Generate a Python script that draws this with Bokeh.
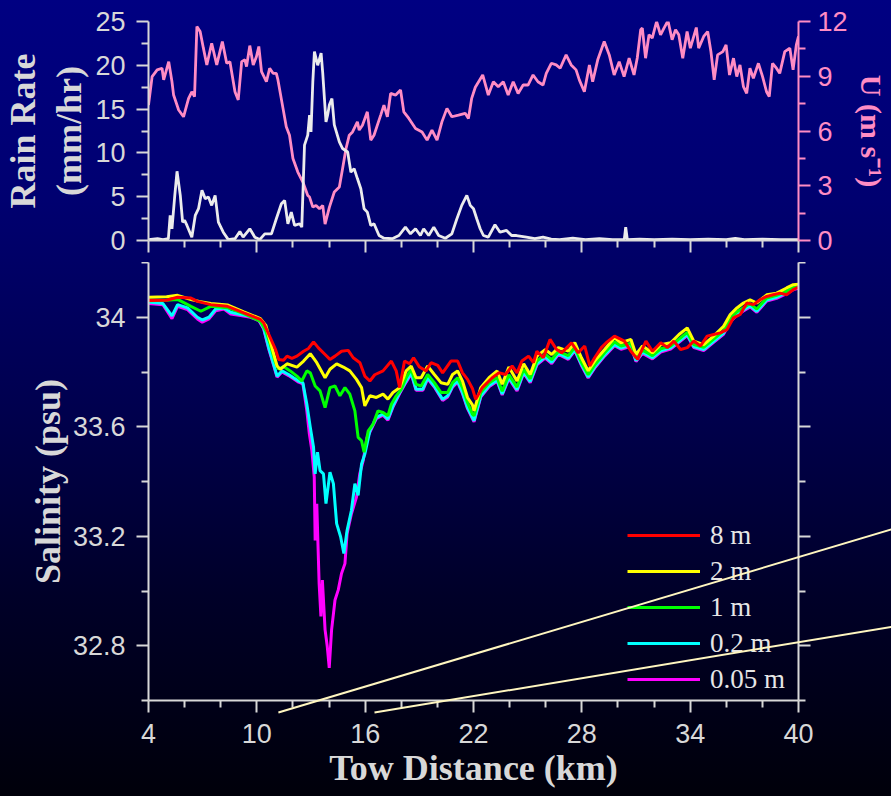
from bokeh.plotting import figure
from bokeh.models import (Range1d, LinearAxis, FixedTicker, Legend, LegendItem, GridBox)
from bokeh.layouts import column
from bokeh.embed import file_html
from bokeh.resources import INLINE

# ---------------- data ----------------
wind_km = [4.0, 4.2, 4.48, 4.75, 4.84, 5.12, 5.3, 5.39, 5.67, 5.94, 6.22, 6.4, 6.55, 6.68, 6.86, 7.04,
           7.23, 7.5, 7.78, 8.09, 8.33, 8.51, 8.79, 8.97, 9.16, 9.34, 9.43, 9.61, 9.8, 9.98, 10.11, 10.26,
           10.53, 10.71, 10.9, 11.08, 11.17, 11.45, 11.63, 11.81, 12.0, 12.27, 12.55, 12.82, 12.92, 13.1,
           13.28, 13.47, 13.65, 13.78, 14.02, 14.29, 14.57, 14.75, 14.94, 15.12, 15.3, 15.57, 15.67, 15.85,
           16.12, 16.31, 16.49, 16.86, 17.04, 17.23, 17.41, 17.69, 17.96, 18.14, 18.42, 18.79, 19.15, 19.43,
           19.7, 19.98, 20.25, 20.53, 20.8, 21.17, 21.54, 21.72, 21.9, 22.1, 22.51, 22.82, 23.1, 23.37,
           23.65, 23.92, 24.2, 24.47, 24.75, 25.02, 25.3, 25.57, 25.85, 26.03, 26.31, 26.58, 26.8, 27.13,
           27.41, 27.68, 27.86, 28.14, 28.42, 28.6, 28.88, 29.24, 29.52, 29.79, 30.07, 30.34, 30.62, 30.89,
           31.07, 31.26, 31.35, 31.53, 31.72, 31.9, 32.14, 32.36, 32.55, 32.77, 33.0, 33.19, 33.37, 33.59,
           33.83, 34.01, 34.34, 34.47, 34.75, 34.97, 35.15, 35.33, 35.52, 35.81, 35.99, 36.18, 36.4, 36.58,
           36.76, 36.95, 37.13, 37.31, 37.5, 37.78, 38.01, 38.23, 38.38, 38.56, 38.78, 38.96, 39.24, 39.52,
           39.7, 39.88, 40.0]
wind_u = [7.42, 8.98, 9.35, 9.44, 8.8, 9.8, 8.7, 7.97, 7.15, 6.78, 7.79, 8.15, 7.88, 11.73, 11.45, 10.54,
          9.62, 10.81, 9.62, 10.9, 9.71, 9.8, 8.15, 7.7, 9.8, 9.9, 9.53, 10.68, 9.62, 10.08, 10.63, 9.25,
          8.7, 9.44, 9.16, 9.16, 8.8, 7.24, 6.23, 5.77, 4.49, 3.75, 3.2, 2.47, 2.38, 1.83,
          1.92, 1.74, 1.92, 0.9, 1.83, 2.66, 2.93, 3.94, 5.04, 5.77, 5.95, 6.5, 6.05, 6.32,
          7.05, 5.5, 5.77, 6.87, 7.42, 6.78, 8.06, 7.97, 8.25, 7.05, 6.69, 6.14, 5.95, 5.5,
          6.05, 5.5, 6.5, 7.24, 6.78, 6.87, 6.97, 6.69, 7.79, 8.4, 9.07, 7.97, 8.7, 8.43,
          8.7, 7.97, 8.7, 8.06, 8.52, 8.52, 9.07, 8.7, 8.52, 9.16, 9.71, 9.62, 9.44, 10.17,
          9.62, 9.35, 8.8, 8.15, 9.62, 8.7, 9.9, 10.9, 10.17, 9.07, 9.8, 8.98, 9.99, 9.07,
          10.0, 11.55, 11.64, 9.99, 11.27, 11.09, 12.0, 11.27, 11.64, 12.04, 11.0, 11.55, 11.27, 9.99,
          11.45, 10.54, 11.67, 10.54, 11.18, 11.45, 10.35, 8.8, 10.17, 10.35, 10.72, 9.07, 9.99, 8.98,
          9.62, 8.43, 8.06, 9.44, 8.89, 9.71, 8.98, 8.15, 7.88, 9.71, 9.44, 9.16, 10.35, 10.54,
          9.35, 10.72, 11.18]

rain_km = [4.0, 4.5, 4.8, 5.1, 5.2, 5.3, 5.45, 5.58, 5.76, 5.89, 6.0, 6.13, 6.4, 6.59, 6.77, 6.96, 7.14,
           7.32, 7.5, 7.69, 7.87, 8.14, 8.42, 8.79, 9.06, 9.24, 9.61, 9.89, 10.16, 10.44, 10.81, 11.08,
           11.36, 11.54, 11.72, 11.91, 12.09, 12.37, 12.49, 12.64, 12.82, 12.92, 13.0, 13.1, 13.19, 13.37,
           13.56, 13.65, 13.83, 13.92, 14.02, 14.16, 14.29, 14.57, 14.75, 15.03, 15.21, 15.39, 15.57, 15.76,
           15.94, 16.12, 16.31, 16.49, 16.77, 17.04, 17.5, 17.87, 18.23, 18.51, 18.79, 19.06, 19.24, 19.52,
           19.8, 20.07, 20.44, 20.8, 21.08, 21.35, 21.63, 21.82, 22.0, 22.18, 22.37, 22.55, 22.82, 23.19,
           23.47, 23.83, 24.11, 24.38, 24.93, 25.4, 25.85, 26.3, 26.77, 27.5, 28.2, 28.97, 29.7, 30.35,
           30.43, 30.52, 31.2, 32.0, 33.0, 34.0, 35.0, 36.0, 36.5, 37.0, 38.0, 39.0, 40.0]
rain_rate = [0.1, 0.2, 0.1, 0.2, 2.86, 1.34, 5.0, 7.9, 5.15, 2.1, 2.3, 1.72, 0.38, 2.86, 3.63, 5.73, 4.78,
             4.96, 4.01, 5.15, 2.1, 0.95, 0.1, 0.2, 1.03, 0.38, 1.34, 0.38, 0.1, 0.76, 0.76, 2.48,
             4.2, 4.58, 1.91, 3.24, 1.72, 1.91, 1.53, 10.88, 12.03, 14.3, 12.4, 18.1, 21.57, 20.0,
             21.4, 19.1, 13.55, 14.3, 15.5, 16.2, 13.2, 11.26, 10.5, 10.1, 7.8, 8.2, 7.07, 5.9,
             3.63, 3.24, 1.72, 1.91, 0.57, 0.26, 0.2, 0.57, 1.53, 0.76, 1.34, 0.57, 1.34, 0.57,
             1.53, 0.57, 0.26, 0.76, 2.48, 4.01, 5.15, 4.01, 3.63, 2.48, 1.34, 0.57, 0.38, 1.8,
             0.95, 1.15, 0.57, 0.57, 0.38, 0.2, 0.38, 0.15, 0.1, 0.26, 0.1, 0.2, 0.1, 0.1,
             1.53, 0.1, 0.15, 0.1, 0.15, 0.1, 0.15, 0.1, 0.25, 0.1, 0.15, 0.1, 0.1]

sal_8m = [(4.0, 34.061), (5.0, 34.062), (5.61, 34.073), (6.35, 34.07), (6.71, 34.058), (7.45, 34.046),
          (8.37, 34.04), (9.28, 34.016), (10.2, 33.992), (10.38, 33.979), (10.75, 33.925), (11.03, 33.883),
          (11.21, 33.846), (11.48, 33.843), (11.67, 33.858), (11.94, 33.85), (12.22, 33.858), (12.59, 33.876),
          (12.86, 33.886), (13.14, 33.91), (13.41, 33.888), (13.78, 33.864), (14.05, 33.846), (14.33, 33.858),
          (14.69, 33.876), (15.06, 33.879), (15.34, 33.852), (15.71, 33.834), (15.98, 33.785), (16.26, 33.767),
          (16.53, 33.79), (16.99, 33.804), (17.45, 33.84), (17.72, 33.804), (17.91, 33.743), (18.18, 33.84),
          (18.46, 33.83), (18.68, 33.852), (19.01, 33.818), (19.37, 33.804), (19.65, 33.834), (20.02, 33.824),
          (20.29, 33.797), (20.75, 33.84), (21.12, 33.84), (21.39, 33.797), (21.67, 33.773), (21.94, 33.74),
          (22.12, 33.70), (22.49, 33.743), (23.04, 33.779), (23.4, 33.797), (23.77, 33.791), (24.14, 33.822),
          (24.41, 33.797), (24.68, 33.84), (25.05, 33.858), (25.32, 33.834), (25.51, 33.876), (25.87, 33.852),
          (26.24, 33.919), (26.6, 33.882), (26.88, 33.87), (27.43, 33.907), (27.8, 33.87), (28.16, 33.895),
          (28.44, 33.822), (28.71, 33.852), (29.08, 33.889), (29.35, 33.907), (29.81, 33.931), (30.36, 33.913),
          (30.72, 33.876), (31.09, 33.846), (31.55, 33.913), (31.91, 33.876), (32.37, 33.907), (32.74, 33.889),
          (33.1, 33.913), (33.47, 33.882), (33.84, 33.889), (34.2, 33.913), (34.57, 33.895), (34.94, 33.931),
          (35.3, 33.937), (35.67, 33.943), (36.04, 33.955), (36.4, 33.998), (36.77, 34.01), (37.14, 34.052),
          (37.5, 34.046), (37.87, 34.064), (38.24, 34.076), (38.6, 34.082), (38.97, 34.088), (39.34, 34.082),
          (39.71, 34.101), (40.0, 34.11)]
sal_2m = [(4.0, 34.073), (5.0, 34.075), (5.61, 34.08), (6.35, 34.065), (6.8, 34.058), (7.45, 34.05),
          (8.37, 34.045), (9.28, 34.02), (10.2, 33.995), (10.5, 33.97), (10.75, 33.91), (11.12, 33.822),
          (11.3, 33.81), (11.67, 33.83), (12.22, 33.818), (12.59, 33.84), (12.96, 33.867), (13.32, 33.834),
          (13.78, 33.779), (14.05, 33.81), (14.42, 33.83), (14.79, 33.818), (15.15, 33.804), (15.52, 33.773),
          (15.8, 33.743), (15.98, 33.676), (16.26, 33.713), (16.62, 33.707), (16.99, 33.719), (17.26, 33.701),
          (17.54, 33.725), (17.91, 33.743), (18.27, 33.804), (18.55, 33.822), (18.82, 33.779), (19.1, 33.779),
          (19.46, 33.822), (19.83, 33.791), (20.2, 33.761), (20.57, 33.755), (20.84, 33.791), (21.12, 33.804),
          (21.39, 33.767), (21.67, 33.707), (21.94, 33.68), (22.03, 33.658), (22.4, 33.743), (22.86, 33.779),
          (23.31, 33.804), (23.59, 33.755), (23.96, 33.818), (24.41, 33.767), (24.78, 33.83), (25.14, 33.791),
          (25.51, 33.858), (25.97, 33.882), (26.33, 33.864), (26.7, 33.889), (27.25, 33.876), (27.61, 33.907),
          (27.98, 33.852), (28.35, 33.804), (28.71, 33.84), (29.26, 33.882), (29.81, 33.925), (30.17, 33.907),
          (30.72, 33.919), (31.0, 33.864), (31.36, 33.895), (31.91, 33.87), (32.37, 33.9), (32.92, 33.907),
          (33.38, 33.937), (33.84, 33.961), (34.2, 33.913), (34.75, 33.9), (35.3, 33.931), (35.85, 33.967),
          (36.22, 34.01), (36.59, 34.034), (36.95, 34.052), (37.32, 34.064), (37.69, 34.052), (38.24, 34.082),
          (38.79, 34.088), (39.34, 34.107), (39.71, 34.119), (40.0, 34.121)]
sal_1m = [(4.0, 34.06), (5.0, 34.062), (5.61, 34.065), (6.35, 34.04), (6.9, 34.022), (7.45, 34.04),
          (8.37, 34.035), (9.28, 34.013), (10.2, 33.985), (10.5, 33.95), (10.75, 33.9), (11.0, 33.84),
          (11.2, 33.81), (11.48, 33.82), (11.85, 33.804), (12.22, 33.785), (12.49, 33.767), (12.77, 33.804),
          (12.96, 33.797), (13.23, 33.749), (13.5, 33.731), (13.78, 33.67), (14.05, 33.743), (14.33, 33.749),
          (14.6, 33.713), (14.88, 33.743), (15.15, 33.719), (15.43, 33.658), (15.61, 33.561), (15.8, 33.549),
          (15.94, 33.507), (16.17, 33.585), (16.44, 33.61), (16.71, 33.658), (16.99, 33.652), (17.26, 33.64),
          (17.45, 33.682), (17.72, 33.713), (18.0, 33.737), (18.27, 33.779), (18.55, 33.81), (18.82, 33.755),
          (19.1, 33.749), (19.46, 33.791), (19.83, 33.761), (20.2, 33.725), (20.57, 33.725), (20.84, 33.761),
          (21.12, 33.779), (21.39, 33.743), (21.67, 33.688), (21.94, 33.646), (22.03, 33.64), (22.4, 33.725),
          (22.86, 33.76), (23.31, 33.78), (23.59, 33.73), (23.96, 33.79), (24.41, 33.745), (24.78, 33.81),
          (25.14, 33.775), (25.51, 33.84), (25.97, 33.865), (26.33, 33.845), (26.7, 33.875), (27.25, 33.86),
          (27.61, 33.89), (27.98, 33.835), (28.35, 33.79), (28.71, 33.825), (29.26, 33.87), (29.81, 33.91),
          (30.17, 33.895), (30.72, 33.905), (31.0, 33.85), (31.36, 33.88), (31.91, 33.86), (32.37, 33.885),
          (32.92, 33.895), (33.38, 33.92), (33.84, 33.945), (34.2, 33.9), (34.75, 33.89), (35.3, 33.92),
          (35.85, 33.95), (36.22, 33.995), (36.59, 34.02), (36.95, 34.035), (37.32, 34.05), (37.69, 34.03),
          (38.24, 34.07), (38.79, 34.08), (39.34, 34.095), (39.71, 34.11), (40.0, 34.115)]
sal_02m = [(4.0, 34.056), (4.8, 34.05), (5.3, 34.005), (5.61, 34.046), (6.16, 34.034), (6.71, 34.0),
           (6.98, 33.99), (7.35, 34.0), (7.72, 34.03), (8.18, 34.034), (8.55, 34.018), (9.1, 34.01),
           (9.65, 34.004), (10.11, 33.992), (10.38, 33.961), (10.66, 33.888), (10.93, 33.828), (11.12, 33.785),
           (11.39, 33.804), (11.76, 33.791), (12.03, 33.779), (12.31, 33.767), (12.55, 33.761), (12.77, 33.682),
           (12.96, 33.598), (13.14, 33.525), (13.23, 33.428), (13.36, 33.507), (13.5, 33.44), (13.69, 33.428),
           (13.83, 33.319), (14.05, 33.434), (14.24, 33.392), (14.42, 33.246), (14.64, 33.198), (14.82, 33.137),
           (15.0, 33.222), (15.24, 33.295), (15.43, 33.392), (15.61, 33.349), (15.8, 33.464), (15.98, 33.5),
           (16.26, 33.585), (16.62, 33.634), (16.99, 33.646), (17.26, 33.628), (17.54, 33.676), (17.91, 33.725),
           (18.27, 33.767), (18.55, 33.797), (18.82, 33.737), (19.19, 33.737), (19.46, 33.779), (19.83, 33.749),
           (20.29, 33.7), (20.57, 33.713), (20.84, 33.749), (21.12, 33.767), (21.39, 33.725), (21.67, 33.67),
           (21.94, 33.634), (22.03, 33.622), (22.4, 33.712), (22.86, 33.75), (23.31, 33.77), (23.59, 33.72),
           (23.96, 33.78), (24.41, 33.735), (24.78, 33.8), (25.14, 33.765), (25.51, 33.83), (25.97, 33.855),
           (26.33, 33.835), (26.7, 33.868), (27.25, 33.85), (27.61, 33.882), (27.98, 33.828), (28.35, 33.782),
           (28.71, 33.818), (29.26, 33.862), (29.81, 33.9), (30.17, 33.887), (30.72, 33.898), (31.0, 33.842),
           (31.36, 33.872), (31.91, 33.852), (32.37, 33.877), (32.92, 33.888), (33.38, 33.912), (33.84, 33.937),
           (34.2, 33.893), (34.75, 33.882), (35.3, 33.912), (35.85, 33.942), (36.22, 33.987), (36.59, 34.012),
           (36.95, 34.027), (37.32, 34.042), (37.69, 34.022), (38.24, 34.063), (38.79, 34.073), (39.34, 34.09),
           (39.71, 34.105), (40.0, 34.11)]
sal_005m = [(4.0, 34.05), (4.8, 34.046), (5.3, 33.995), (5.61, 34.04), (6.16, 34.028), (6.71, 33.994),
            (6.98, 33.982), (7.35, 33.994), (7.72, 34.024), (8.18, 34.03), (8.55, 34.012), (9.1, 34.006),
            (9.65, 34.0), (10.11, 33.988), (10.38, 33.957), (10.66, 33.884), (10.93, 33.824), (11.12, 33.781),
            (11.39, 33.8), (11.76, 33.787), (12.03, 33.775), (12.31, 33.763), (12.55, 33.757), (12.77, 33.658),
            (12.91, 33.573), (13.05, 33.513), (13.18, 33.416), (13.23, 33.185), (13.32, 33.319), (13.45, 33.028),
            (13.55, 32.907), (13.63, 33.04), (13.78, 32.858), (13.9, 32.798), (14.01, 32.719), (14.14, 32.858),
            (14.33, 32.967), (14.51, 33.004), (14.69, 33.064), (14.88, 33.1), (15.0, 33.21), (15.24, 33.282),
            (15.52, 33.343), (15.7, 33.428), (15.89, 33.476), (16.1, 33.56), (16.26, 33.58), (16.62, 33.63),
            (16.99, 33.642), (17.26, 33.624), (17.54, 33.672), (17.91, 33.721), (18.27, 33.763), (18.55, 33.793),
            (18.82, 33.733), (19.19, 33.733), (19.46, 33.775), (19.83, 33.745), (20.29, 33.696), (20.57, 33.709),
            (20.84, 33.745), (21.12, 33.763), (21.39, 33.721), (21.67, 33.666), (21.94, 33.63), (22.03, 33.618),
            (22.4, 33.708), (22.86, 33.746), (23.31, 33.766), (23.59, 33.716), (23.96, 33.776), (24.41, 33.731),
            (24.78, 33.796), (25.14, 33.761), (25.51, 33.826), (25.97, 33.851), (26.33, 33.831), (26.7, 33.864),
            (27.25, 33.846), (27.61, 33.878), (27.98, 33.824), (28.35, 33.778), (28.71, 33.814), (29.26, 33.858),
            (29.81, 33.896), (30.17, 33.883), (30.72, 33.894), (31.0, 33.838), (31.36, 33.868), (31.91, 33.848),
            (32.37, 33.873), (32.92, 33.884), (33.38, 33.908), (33.84, 33.933), (34.2, 33.889), (34.75, 33.878),
            (35.3, 33.908), (35.85, 33.938), (36.22, 33.983), (36.59, 34.008), (36.95, 34.023), (37.32, 34.038),
            (37.69, 34.018), (38.24, 34.059), (38.79, 34.069), (39.34, 34.086), (39.71, 34.101), (40.0, 34.106)]

depth_labels = ["8 m", "2 m", "1 m", "0.2 m", "0.05 m"]
depth_colors = ["#ff0000", "#ffff00", "#00ff00", "#00ffff", "#ff00ff"]
sal_series = [sal_8m, sal_2m, sal_1m, sal_02m, sal_005m]

x_major = [4, 10, 16, 22, 28, 34, 40]
x_minor = [6, 8, 12, 14, 18, 20, 24, 26, 30, 32, 36, 38]
rain_major = [0, 5, 10, 15, 20, 25]
rain_minor = [2.5, 7.5, 12.5, 17.5, 22.5]
wind_major = [0, 3, 6, 9, 12]
wind_minor = [1.5, 4.5, 7.5, 10.5]
sal_major = [32.8, 33.2, 33.6, 34]
sal_minor = [32.6, 33.0, 33.4, 33.8, 34.2]

# decorative straight lines of the picture, in the salinity panel's data units
deco_lines = [((11.37, 32.556), (45.11, 33.225)), ((16.66, 32.556), (45.11, 32.869))]

# ---------------- geometry / styling ----------------
W, H = 891, 796
LEFT, RIGHT = 144, 93          # borders around the shared plot frames
TOP_H = 262                    # height of the upper panel
TOP_T, TOP_B = 21, 22          # upper panel top / bottom border
BOT_T, BOT_B = 0, 96           # lower panel top / bottom border
AXIS_C = "#d8d8d8"
PINK = "#ff8cc4"
TICK_FONT = "Liberation Sans"
LABEL_FONT = "Liberation Serif"


def style_axis(ax, color=AXIS_C, labels=True):
    ax.axis_line_color = color
    ax.axis_line_width = 2
    ax.major_tick_line_color = color
    ax.major_tick_line_width = 2
    ax.minor_tick_line_color = color
    ax.minor_tick_line_width = 2
    ax.major_tick_out = 12
    ax.major_tick_in = 0
    ax.minor_tick_out = 7
    ax.minor_tick_in = 0
    ax.major_label_text_font = TICK_FONT
    ax.major_label_text_color = color
    ax.axis_label_text_font = LABEL_FONT
    ax.axis_label_text_font_style = "bold"
    ax.axis_label_text_color = color
    if labels:
        ax.major_label_text_font_size = "27px"
        ax.major_label_standoff = 11
    else:
        ax.major_label_overrides = {t: "" for t in ax.ticker.ticks}
        ax.major_label_text_font_size = "1px"
        ax.major_label_standoff = 0


def make_fig(height, y_range, top_b, bot_b):
    return figure(width=W, height=height, x_range=Range1d(4, 40), y_range=y_range,
                  output_backend="svg", toolbar_location=None,
                  min_border_left=LEFT, min_border_right=RIGHT,
                  min_border_top=top_b, min_border_bottom=bot_b,
                  background_fill_color=None, border_fill_color=None, outline_line_color=None)


# ---------------- top panel ----------------
top = make_fig(TOP_H, Range1d(0, 25), TOP_T, TOP_B)
top.grid.visible = False
top.extra_y_ranges = {"wind": Range1d(0, 12)}

top.xaxis.ticker = FixedTicker(ticks=x_major, minor_ticks=x_minor)
style_axis(top.xaxis[0], labels=False)

top.yaxis.ticker = FixedTicker(ticks=rain_major, minor_ticks=rain_minor)
style_axis(top.yaxis[0])
top.yaxis.axis_label = "Rain Rate\n(mm/hr)"
top.yaxis.axis_label_text_font_size = "36px"
top.yaxis.axis_label_text_line_height = 1.15
top.yaxis.axis_label_standoff = 3

wax = LinearAxis(y_range_name="wind", ticker=FixedTicker(ticks=wind_major, minor_ticks=wind_minor))
style_axis(wax, color=PINK)
wax.major_label_standoff = 7
wax.axis_label = "U (m s\u207b\u00b9)"
wax.axis_label_text_font_size = "30px"
wax.axis_label_standoff = 4
top.add_layout(wax, "right")

top.line(wind_km, wind_u, y_range_name="wind", line_color=PINK, line_width=2.8)
top.line(rain_km, rain_rate, line_color="#ececec", line_width=2.8)

# ---------------- bottom panel ----------------
BOT_H = H - TOP_H
bot = make_fig(BOT_H, Range1d(32.6, 34.2), BOT_T, BOT_B)
bot.grid.visible = False

bot.xaxis.ticker = FixedTicker(ticks=x_major, minor_ticks=x_minor)
style_axis(bot.xaxis[0])
bot.xaxis.axis_label = "Tow Distance (km)"
bot.xaxis.axis_label_text_font_size = "36px"
bot.xaxis.axis_label_standoff = 2

bot.yaxis.ticker = FixedTicker(ticks=sal_major, minor_ticks=sal_minor)
style_axis(bot.yaxis[0])
bot.yaxis.major_label_overrides = {34: "34"}
bot.yaxis.axis_label = "Salinity (psu)"
bot.yaxis.axis_label_text_font_size = "36px"
bot.yaxis.axis_label_standoff = 2

rax = LinearAxis(ticker=FixedTicker(ticks=sal_major, minor_ticks=sal_minor))
style_axis(rax, labels=False)
bot.add_layout(rax, "right")

renderers = {}
for lab, col, ser in reversed(list(zip(depth_labels, depth_colors, sal_series))):
    xs = [p[0] for p in ser]
    ys = [p[1] for p in ser]
    renderers[lab] = bot.line(xs, ys, line_color=col, line_width=3)

legend = Legend(items=[LegendItem(label=lab, renderers=[renderers[lab]]) for lab in depth_labels],
                location=(479, 3), orientation="vertical",
                glyph_width=73, glyph_height=36, label_height=36, label_standoff=10,
                spacing=0, padding=0, margin=0,
                label_text_font=LABEL_FONT, label_text_font_size="27px",
                label_text_color="#e6e6e6",
                border_line_color=None, background_fill_alpha=0)
bot.add_layout(legend, "center")

# ---------------- transparent overlay carrying the long straight lines ----------------
# its ranges extend the lower panel's scales to the whole page so that the lines can cross the axes
fw = W - LEFT - RIGHT
fh = BOT_H - BOT_T - BOT_B
kx = (40 - 4) / fw
ky = (34.2 - 32.6) / fh
ov_x = Range1d(4 - LEFT * kx, 40 + RIGHT * kx)
ov_y = Range1d(32.6 - BOT_B * ky, 34.2 + (TOP_H + BOT_T) * ky)
over = figure(width=W, height=H, x_range=ov_x, y_range=ov_y, output_backend="svg",
              toolbar_location=None, x_axis_type=None, y_axis_type=None,
              min_border=0, min_border_left=0, min_border_right=0, min_border_top=0, min_border_bottom=0,
              background_fill_color=None, border_fill_color=None, outline_line_color=None)
over.grid.visible = False
over.segment(x0=[a[0] for a, b in deco_lines], y0=[a[1] for a, b in deco_lines],
             x1=[b[0] for a, b in deco_lines], y1=[b[1] for a, b in deco_lines],
             line_color="#fff6c0", line_width=2)

panels = column(top, bot, spacing=0)
page = GridBox(children=[(panels, 0, 0), (over, 0, 0)],
               styles={"background": "linear-gradient(180deg, #000082 0%, #000070 25%, "
                                     "#000050 50%, #000028 75%, #00000a 100%)"})

open("out.html", "w").write(file_html(page, INLINE))
